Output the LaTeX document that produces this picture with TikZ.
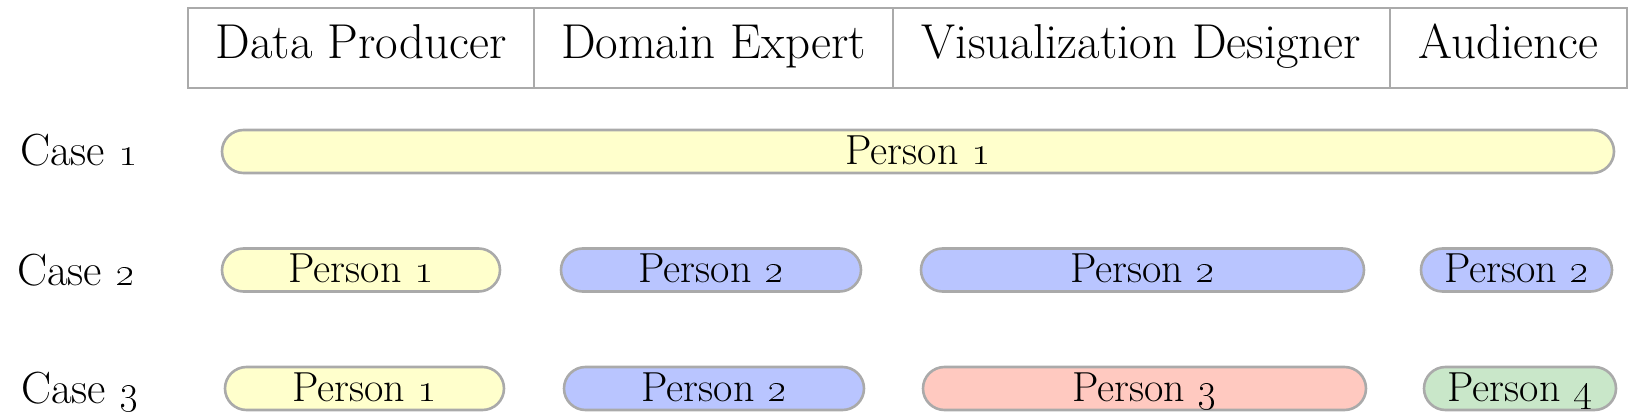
\documentclass[tikz,border=0pt]{standalone}
\usepackage{xcolor}
\usepackage{tikz}
\definecolor{edge}{HTML}{AAAAAA}
\definecolor{yel}{HTML}{FFFFCC}
\definecolor{blu}{HTML}{B9C5FF}
\definecolor{pnk}{HTML}{FFC9C0}
\definecolor{grn}{HTML}{C9E7C9}
\tikzset{
  role/.style={draw=edge, line width=1.3pt, minimum height=40pt, inner sep=0pt,
    font=\fontsize{24.5}{28}\selectfont, text height=16.7pt, text depth=6.5pt},
  bar/.style={draw=edge, fill=#1, line width=1.3pt, rounded corners=10.75pt,
    minimum height=21.5pt, inner sep=0pt,
    font=\fontsize{21}{25}\selectfont, text height=14.3pt, text depth=1.5pt},
  caselab/.style={inner sep=0pt, font=\fontsize{22.5}{26}\selectfont,
    text height=15.4pt, text depth=0pt},
}
\newcommand{\pn}[1]{Person \oldstylenums{#1}}

\begin{document}
\begin{tikzpicture}[x=0.5pt, y=-0.5pt]
  \useasboundingbox (0,0) rectangle (1633,416);

  % role header
  \node[role, minimum width=173pt]   (prod) at (361,48)    {Data Producer};
  \node[role, minimum width=179.5pt] (dom)  at (713.5,48)  {Domain Expert};
  \node[role, minimum width=248.5pt] (vis)  at (1141.5,48) {Visualization Designer};
  \node[role, minimum width=118.5pt] (aud)  at (1508.5,48) {Audience};

  % case labels
  \node[caselab] (case1) at (79,150)   {Case \oldstylenums{1}};
  \node[caselab] (case2) at (76,270)   {Case \oldstylenums{2}};
  \node[caselab] (case3) at (80,388)   {Case \oldstylenums{3}};

  % case 1: one person for everything
  \node[bar=yel, minimum width=696pt] (c1p1) at (918,151.5) {\pn{1}};

  % case 2
  \node[bar=yel, minimum width=139pt]   (c2p1) at (361,270)    {\pn{1}};
  \node[bar=blu, minimum width=150pt]   (c2p2) at (711,270)    {\pn{2}};
  \node[bar=blu, minimum width=221.5pt] (c2p3) at (1142.5,270) {\pn{2}};
  \node[bar=blu, minimum width=95.5pt]  (c2p4) at (1516.5,270) {\pn{2}};

  % case 3
  \node[bar=yel, minimum width=139.5pt] (c3p1) at (364.5,388.5)  {\pn{1}};
  \node[bar=blu, minimum width=150pt]   (c3p2) at (714,388.5)    {\pn{2}};
  \node[bar=pnk, minimum width=221.5pt] (c3p3) at (1144.5,388.5) {\pn{3}};
  \node[bar=grn, minimum width=96pt]    (c3p4) at (1520,388.5)   {\pn{4}};
\end{tikzpicture}
\end{document}
